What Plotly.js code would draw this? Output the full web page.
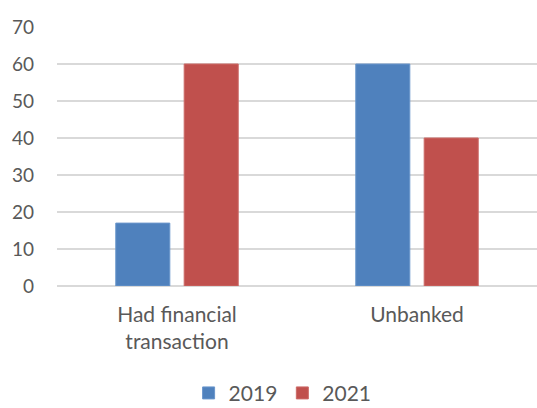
<!DOCTYPE html>
<html>
<head>
<meta charset="utf-8">
<script src="https://cdn.plot.ly/plotly-3.0.1.min.js"></script>
<style>html,body{margin:0;padding:0;background:#fff;}#chart{width:537px;height:408px;}</style>
</head>
<body>
<div id="chart"></div>
<script>
const categories = ["Had financial<br>transaction", "Unbanked"];
const seriesNames = ["2019", "2021"];
const values2019 = [17, 60];
const values2021 = [60, 40];
const yTicks = [0, 10, 20, 30, 40, 50, 60, 70];

const tickFont = {family: "Lato, 'Open Sans', sans-serif", size: 19, color: "#595959"};
const catFont = {family: "Lato, 'Open Sans', sans-serif", size: 21, color: "#595959"};

const traces = [
  {type: "bar", name: seriesNames[0], x: categories, y: values2019,
   marker: {color: "#4F81BD", line: {color: "#6a96cc", width: 1}}},
  {type: "bar", name: seriesNames[1], x: categories, y: values2021,
   marker: {color: "#C0504D", line: {color: "#cc6a67", width: 1}}}
];

const layout = {
  width: 537, height: 408,
  margin: {l: 57, r: 0, t: 27, b: 122, autoexpand: false},
  paper_bgcolor: "#fff", plot_bgcolor: "#fff",
  font: catFont,
  barmode: "group",
  bargap: 0.43,
  bargroupgap: 0.21,
  showlegend: true,
  legend: {orientation: "h", x: 0.47, xanchor: "center", y: -0.335, yanchor: "top", font: catFont},
  xaxis: {type: "category", showgrid: false, zeroline: false, showline: false, ticks: "",
          tickfont: catFont, ticklabelstandoff: 14, automargin: false},
  yaxis: {range: [0, 70], tickvals: yTicks, showgrid: true, gridcolor: "#d9d9d9", gridwidth: 1.5,
          zeroline: true, zerolinecolor: "#d9d9d9", zerolinewidth: 1.5, showline: false,
          ticks: "", tickfont: tickFont, ticklabelstandoff: 22, automargin: false}
};

Plotly.newPlot("chart", traces, layout, {displayModeBar: false, staticPlot: true});
</script>
</body>
</html>
